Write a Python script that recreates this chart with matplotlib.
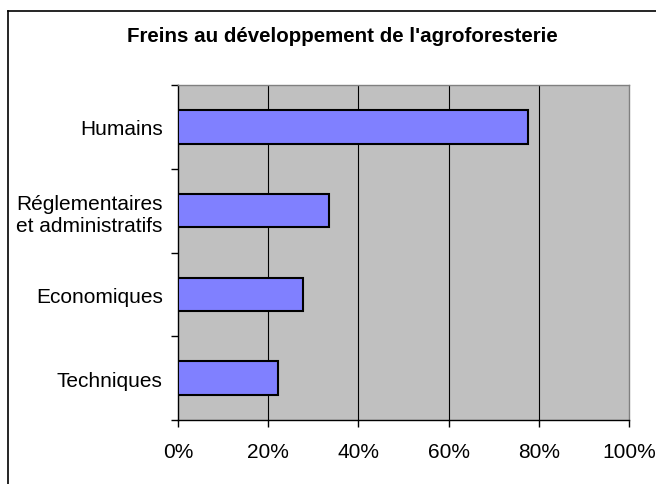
import matplotlib
matplotlib.use("Agg")
import matplotlib.pyplot as plt
from matplotlib.lines import Line2D
import numpy as np

categories = ["Techniques", "Economiques", "Réglementaires\net administratifs", "Humains"]
values = [22.2, 27.7, 33.5, 77.6]
xticks = [0, 20, 40, 60, 80, 100]
xtick_labels = ["0%", "20%", "40%", "60%", "80%", "100%"]
title = "Freins au développement de l'agroforesterie"

plt.rcParams['font.family'] = ['Liberation Sans', 'DejaVu Sans']

W, H = 656, 485
fig = plt.figure(figsize=(W/100, H/100), dpi=100)
fig.patch.set_facecolor('white')

# outer border (only top and left lie inside the image)
fig.lines.append(Line2D([8/W, 1.0], [1 - 12/H, 1 - 12/H], transform=fig.transFigure,
                        color='black', linewidth=1.2))
fig.lines.append(Line2D([8/W, 8/W], [1 - 12/H, 0.0], transform=fig.transFigure,
                        color='black', linewidth=1.2))

left, right, top, bottom = 178, 629, 86, 421
ax = fig.add_axes([left/W, 1 - bottom/H, (right-left)/W, (bottom-top)/H])
ax.set_facecolor('#C0C0C0')

y = np.arange(len(categories))
ax.barh(y, values, height=0.4, color='#8080FF', edgecolor='black', linewidth=1.5, zorder=3)

ax.set_xlim(0, 100)
ax.set_ylim(-0.5, len(categories) - 0.5)
ax.set_xticks(xticks)
ax.set_xticklabels(xtick_labels, fontsize=15)
for xv in xticks[1:-1]:
    ax.axvline(xv, color='black', linewidth=0.8, zorder=1)

ax.set_yticks(y)
ax.set_yticklabels(categories, fontsize=15, linespacing=1.25, multialignment='center')
ax.tick_params(axis='y', which='major', length=0, pad=11)
ax.set_yticks(np.arange(-0.5, len(categories)), minor=True)
ax.tick_params(axis='y', which='minor', length=5, width=1, color='black', direction='out')
ax.tick_params(axis='x', which='major', length=5, width=1, color='black', direction='out', pad=11)

for s in ['top', 'right']:
    ax.spines[s].set_color('#808080')
    ax.spines[s].set_linewidth(1.0)
for s in ['left', 'bottom']:
    ax.spines[s].set_color('black')
    ax.spines[s].set_linewidth(1.0)

fig.text(342/W, 1 - 37/H, title, fontsize=14.8, fontweight='bold', ha='center', va='center')

fig.savefig("out.png", dpi=100)
